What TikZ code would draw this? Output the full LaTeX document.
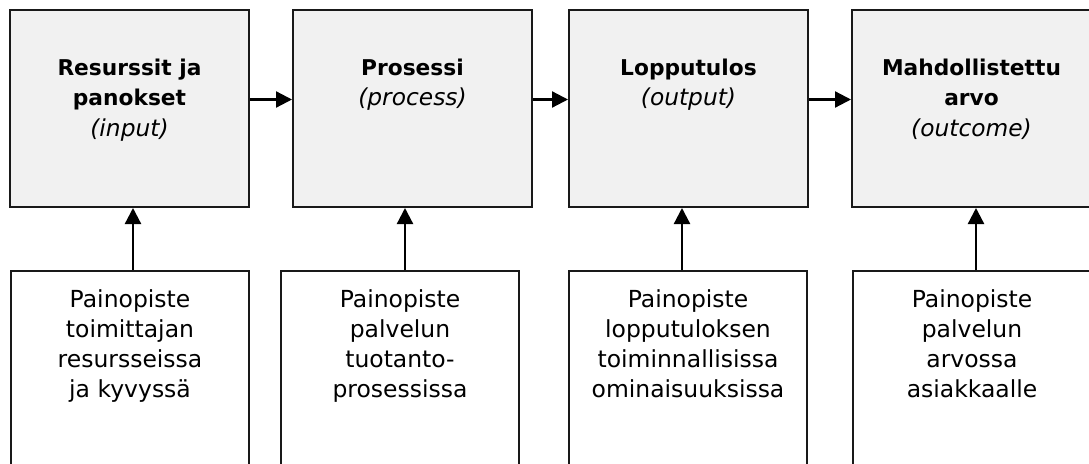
\documentclass[tikz,border=0pt]{standalone}
\usepackage{fontspec}
\setmainfont{DejaVu Sans}
\usetikzlibrary{arrows.meta,calc}
\definecolor{boxfill}{RGB}{241,241,241}
\definecolor{edge}{RGB}{25,25,25}
\newcommand{\eng}[1]{{\mdseries\itshape\fontsize{17.5pt}{22.6pt}\selectfont #1}}
\begin{document}
\begin{tikzpicture}[x=0.75pt,y=-0.75pt,
  topbox/.style={draw=edge, line width=1.5pt, fill=boxfill, minimum width=179.25pt, minimum height=147.75pt, inner sep=0pt},
  botbox/.style={draw=edge, line width=1.5pt, fill=white, minimum width=178.5pt, minimum height=156.75pt, inner sep=0pt},
  titletext/.style={anchor=north, align=center, inner sep=0pt, font=\fontsize{16.3pt}{22.6pt}\selectfont\bfseries},
  bodytext/.style={anchor=north, align=center, inner sep=0pt, font=\fontsize{17.6pt}{22.6pt}\selectfont},
  arr/.style={line width=1.7pt, draw=black, -{Triangle[length=12pt,width=12pt]}}]
\useasboundingbox (0,0) rectangle (1089,464);
\clip (0,0) rectangle (1089,464);
% top boxes
\node[topbox] (t1) at (129.5,108.5) {};
\node[topbox] (t2) at (412.5,108.5) {};
\node[topbox] (t3) at (688.5,108.5) {};
\node[topbox] (t4) at (971.5,108.5) {};
% bottom boxes
\node[botbox] (b1) at (130,375.5) {};
\node[botbox] (b2) at (400,375.5) {};
\node[botbox] (b3) at (688,375.5) {};
\node[botbox] (b4) at (972,375.5) {};
% titles
\node[titletext] (h1) at (129.5,59) {Resurssit ja\\panokset\\\eng{(input)}};
\node[titletext] (h2) at (412.5,59) {Prosessi\\\eng{(process)}};
\node[titletext] (h3) at (688.5,59) {Lopputulos\\\eng{(output)}};
\node[titletext] (h4) at (971.5,59) {Mahdollistettu\\arvo\\\eng{(outcome)}};
% body texts
\node[bodytext] (p1) at (130,289) {Painopiste\\toimittajan\\resursseissa\\ja kyvyssä};
\node[bodytext] (p2) at (400,289) {Painopiste\\palvelun\\tuotanto-\\prosessissa};
\node[bodytext] (p3) at (688,289) {Painopiste\\lopputuloksen\\toiminnallisissa\\ominaisuuksissa};
\node[bodytext] (p4) at (972,289) {Painopiste\\palvelun\\arvossa\\asiakkaalle};
% horizontal arrows
\draw[arr] ([yshift=6.75pt]t1.east) -- ([yshift=6.75pt]t2.west);
\draw[arr] ([yshift=6.75pt]t2.east) -- ([yshift=6.75pt]t3.west);
\draw[arr] ([yshift=6.75pt]t3.east) -- ([yshift=6.75pt]t4.west);
% vertical arrows
\coordinate (v1) at ($(b1.north)+(3,0)$);
\coordinate (v2) at ($(b2.north)+(5,0)$);
\coordinate (v3) at ($(b3.north)+(-6,0)$);
\coordinate (v4) at ($(b4.north)+(4,0)$);
\draw[arr] (v1) -- (v1 |- t1.south);
\draw[arr] (v2) -- (v2 |- t2.south);
\draw[arr] (v3) -- (v3 |- t3.south);
\draw[arr] (v4) -- (v4 |- t4.south);
\end{tikzpicture}
\end{document}
